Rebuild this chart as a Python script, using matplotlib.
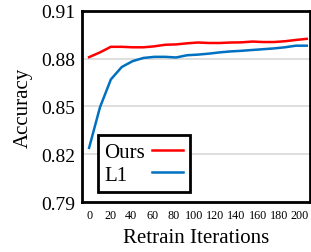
import matplotlib.pyplot as plt
import matplotlib.transforms as mtransforms
import numpy as np

plt.rcParams['font.family'] = ['Liberation Serif', 'DejaVu Serif']

iters = np.arange(0, 201, 10)
acc_ours = [0.881, 0.884, 0.8875, 0.8875, 0.8872, 0.8872, 0.8878, 0.8888, 0.889, 0.8897, 0.8902,
            0.8899, 0.8899, 0.8902, 0.8903, 0.8908, 0.8905, 0.8905, 0.891, 0.8918, 0.8925]
acc_l1 = [0.824, 0.8495, 0.867, 0.8748, 0.8785, 0.8805, 0.8812, 0.8812, 0.8808, 0.8822, 0.8826,
          0.8832, 0.884, 0.8846, 0.885, 0.8855, 0.886, 0.8865, 0.8872, 0.8882, 0.8882]
yticks = [0.79, 0.82, 0.85, 0.88, 0.91]
xticks = list(range(0, 201, 20))

fig = plt.figure(figsize=(3.11, 2.53), dpi=100)
ax = fig.add_axes([0.2637, 0.1976, 0.7331, 0.755])

ax.plot(iters, acc_ours, color="#ff0000", lw=1.8, label="Ours")
ax.plot(iters, acc_l1, color="#0070c0", lw=1.8, label="L1")

ax.set_xlim(-6.5, 203)
ax.set_ylim(0.79, 0.91)
ax.set_yticks(yticks)
ax.set_yticklabels([f"{v:.2f}" for v in yticks], fontsize=14)
ax.set_xticks(xticks)
ax.set_xticklabels([str(v) for v in xticks], fontsize=8.7)
ax.tick_params(length=0, pad=5)
# labels in the original drift slightly left so the last one stays inside
for k, lab in enumerate(ax.get_xticklabels()):
    shift = -0.7 * k / fig.dpi
    lab.set_transform(lab.get_transform() + mtransforms.ScaledTranslation(shift, 0, fig.dpi_scale_trans))
for y in yticks[1:-1]:
    ax.axhline(y, color="#d9d9d9", lw=1.2, zorder=0)
for s in ax.spines.values():
    s.set_linewidth(2)
    s.set_color("black")

ax.set_xlabel("Retrain Iterations", fontsize=15, labelpad=5)
ax.set_ylabel("Accuracy", fontsize=15, labelpad=6)

leg = ax.legend(loc="lower left", bbox_to_anchor=(0.068, 0.055), borderaxespad=0, markerfirst=False,
                fontsize=15, fancybox=False, framealpha=1, handlelength=1.45, handletextpad=0.35,
                borderpad=0.33, labelspacing=0.15)
leg.get_frame().set_edgecolor("black")
leg.get_frame().set_linewidth(2)

# left-align the labels while keeping the line samples lined up on the right
fig.canvas.draw()
r = fig.canvas.get_renderer()
widths = [t.get_window_extent(r).width for t in leg.get_texts()]
wmax = max(widths)
col = leg._legend_handle_box.get_children()[0]
col.align = "left"
for row, w in zip(col.get_children(), widths):
    row.sep = row.sep + (wmax - w) * 72.0 / fig.dpi

fig.savefig("out.png", dpi=100)
